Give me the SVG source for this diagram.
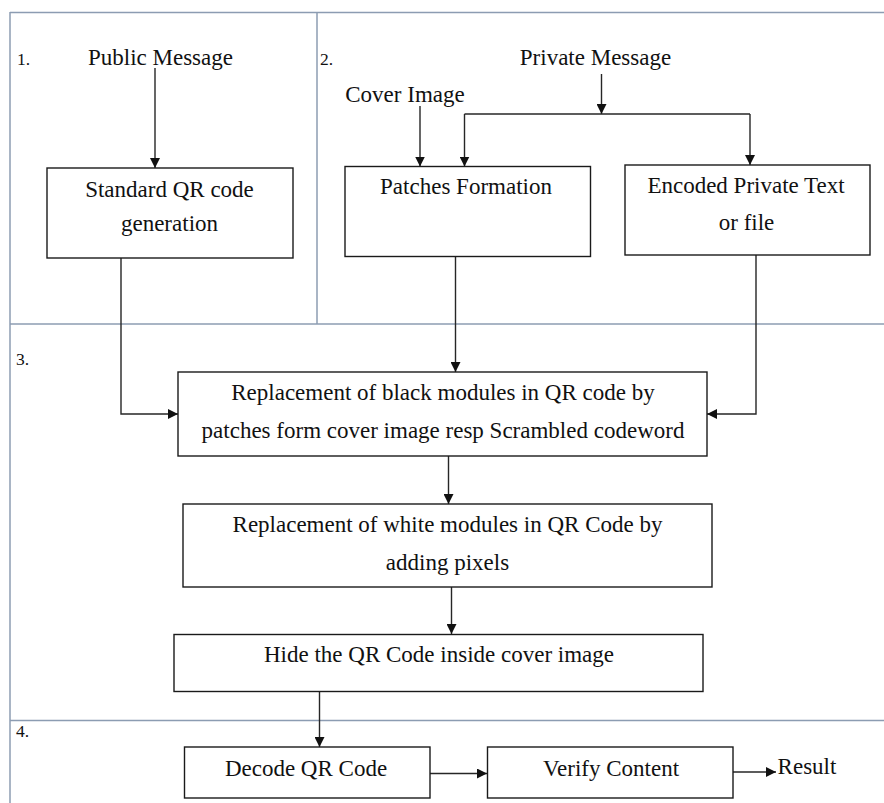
<svg xmlns="http://www.w3.org/2000/svg" width="884" height="803" viewBox="0 0 884 803">
<style>
.grid{stroke:#8c9cb2;stroke-width:1.5;fill:none}
.box{fill:#fff;stroke:#1a1a1a;stroke-width:1.4}
.t{font-family:"Liberation Serif","Times New Roman",serif;font-size:23px;fill:#111;text-anchor:middle}
.n{font-family:"Liberation Serif","Times New Roman",serif;font-size:17.5px;fill:#111}
.c{stroke:#262626;stroke-width:1.4;fill:none}
.a{marker-end:url(#arr)}
</style>
<defs>
<marker id="arr" markerUnits="userSpaceOnUse" markerWidth="11" markerHeight="10" refX="10" refY="5" orient="auto">
<path d="M0,0 L10,5 L0,10 z" fill="#111"/>
</marker>
</defs>
<rect width="884" height="803" fill="#fff"/>
<g id="grid">
<line class="grid" x1="10" y1="12.5" x2="884" y2="12.5"/>
<line class="grid" x1="10" y1="12" x2="10" y2="803"/>
<line class="grid" x1="317" y1="12" x2="317" y2="324"/>
<line class="grid" x1="10" y1="324" x2="884" y2="324"/>
<line class="grid" x1="10" y1="720.5" x2="884" y2="720.5"/>
<text class="n" x="17" y="65">1.</text>
<text class="n" x="320" y="65">2.</text>
<text class="n" x="16" y="365">3.</text>
<text class="n" x="16" y="737">4.</text>
</g>
<g id="connectors">
<path class="c a" d="M155,68 V168"/>
<path class="c a" d="M121,258 V414 H178"/>
<path class="c a" d="M601.5,74 V114"/>
<path class="c" d="M464.5,114 H750"/>
<path class="c a" d="M464.5,114 V166.5"/>
<path class="c a" d="M750,114 V165"/>
<path class="c a" d="M420,106 V166.5"/>
<path class="c a" d="M455.5,257 V372"/>
<path class="c a" d="M756,255 V414 H707"/>
<path class="c a" d="M448.5,456 V504"/>
<path class="c a" d="M451.5,587 V634"/>
<path class="c a" d="M319.5,692 V747"/>
<path class="c a" d="M430,773.5 H487"/>
<path class="c a" d="M733,772 H776"/>
</g>
<g id="public-message"><text class="t" x="160.5" y="65">Public Message</text></g>
<g id="private-message"><text class="t" x="595.5" y="65">Private Message</text></g>
<g id="cover-image"><text class="t" x="405" y="102">Cover Image</text></g>
<g id="standard-qr">
<rect class="box" x="47" y="168" width="246" height="90"/>
<text class="t" x="169.5" y="197">Standard QR code</text>
<text class="t" x="169.5" y="231">generation</text>
</g>
<g id="patches">
<rect class="box" x="345" y="166.5" width="245.5" height="90"/>
<text class="t" x="466" y="194">Patches Formation</text>
</g>
<g id="encoded">
<rect class="box" x="625" y="165" width="245" height="90"/>
<text class="t" x="746" y="193">Encoded Private Text</text>
<text class="t" x="746.5" y="230">or file</text>
</g>
<g id="replace-black">
<rect class="box" x="178" y="372" width="529" height="84"/>
<text class="t" x="443" y="400">Replacement of black modules in QR code by</text>
<text class="t" x="443" y="438">patches form cover image resp Scrambled codeword</text>
</g>
<g id="replace-white">
<rect class="box" x="183" y="504" width="529" height="83"/>
<text class="t" x="447.5" y="532">Replacement of white modules in QR Code by</text>
<text class="t" x="447.5" y="570">adding pixels</text>
</g>
<g id="hide">
<rect class="box" x="174" y="634.5" width="529" height="57"/>
<text class="t" x="439" y="662">Hide the QR Code inside cover image</text>
</g>
<g id="decode">
<rect class="box" x="184.5" y="747" width="245.5" height="51"/>
<text class="t" x="306" y="776">Decode QR Code</text>
</g>
<g id="verify">
<rect class="box" x="487.5" y="747" width="245.5" height="51"/>
<text class="t" x="611" y="776">Verify Content</text>
</g>
<g id="result"><text class="t" x="807" y="774">Result</text></g>
</svg>
